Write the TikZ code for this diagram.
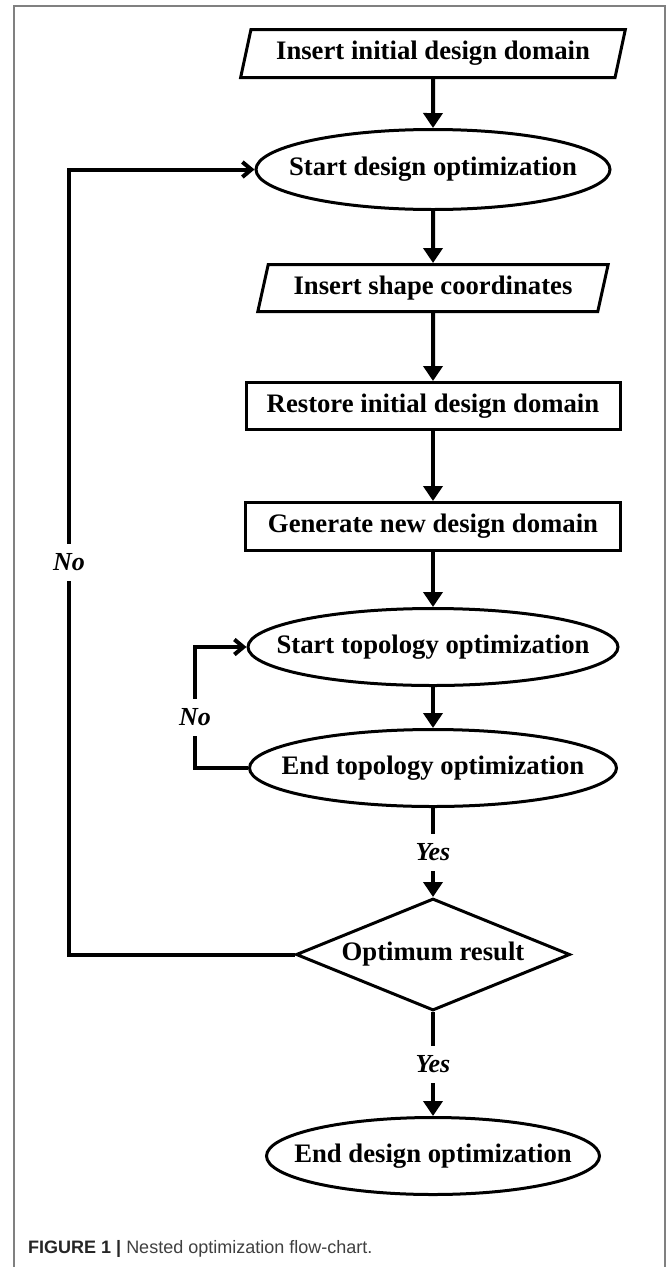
\documentclass[tikz,border=0pt]{standalone}
\usepackage{fontspec}
\setmainfont{Liberation Serif}
\newfontfamily\capfont{Liberation Sans}
\usetikzlibrary{shapes.geometric,arrows.meta}

% text that should not widen the surrounding shape
\newcommand{\nowide}[1]{\makebox[0pt][c]{#1}}

\tikzset{
  flow/.style={draw=black, line width=3pt, fill=white, inner sep=0pt,
    font=\bfseries\fontsize{26.7}{32}\selectfont},
  io/.style={flow, trapezium, trapezium left angle=70, trapezium right angle=110,
    trapezium stretches=true},
  proc/.style={flow, rectangle},
  term/.style={flow, ellipse},
  decide/.style={flow, diamond},
  link/.style={line width=4pt, -{Triangle[length=15pt,width=19pt]}},
  back/.style={line width=4pt, -{Straight Barb[length=9pt,width=15pt]}},
  tag/.style={fill=white, inner sep=0pt, minimum height=37pt, minimum width=36pt,
    font=\bfseries\itshape\fontsize{26}{30}\selectfont},
  frameline/.style={draw=black!50, line width=1.5pt},
}

\begin{document}
\begin{tikzpicture}[x=1pt,y=-1pt]
  \fill[white] (0,0) rectangle (669,1267);
  \useasboundingbox (0,0) rectangle (669,1267);

  % page frame, open at the bottom
  \draw[frameline] (14,1267) -- (14,6) -- (665,6) -- (665,1267);

  % flow column
  \node[io, minimum width=386pt, minimum height=48pt] (p1) at (433,53.5) {Insert initial design domain};
  \node[term, minimum width=354pt, minimum height=80pt] (e1) at (433,169.5) {\nowide{Start design optimization}};
  \node[io, minimum width=352pt, minimum height=47pt] (p2) at (433,288) {Insert shape coordinates};
  \node[proc, minimum width=374pt, minimum height=47pt] (r1) at (433,406) {Restore initial design domain};
  \node[proc, minimum width=375pt, minimum height=48pt] (r2) at (433,526.5) {Generate new design domain};
  \node[term, minimum width=370pt, minimum height=77pt] (e2) at (433,647) {\nowide{Start topology optimization}};
  \node[term, minimum width=367pt, minimum height=77pt] (e3) at (433,768) {\nowide{End topology optimization}};
  \node[decide, minimum width=274pt, minimum height=112pt] (d1) at (433,954.5) {\nowide{Optimum result}};
  \node[term, minimum width=333pt, minimum height=77pt] (e4) at (433,1156) {\nowide{End design optimization}};

  % main connectors
  \draw[link] (p1.south) -- (e1.north);
  \draw[link] (e1.south) -- (p2.north);
  \draw[link] (p2.south) -- (r1.north);
  \draw[link] (r1.south) -- (r2.north);
  \draw[link] (r2.south) -- (e2.north);
  \draw[link] (e2.south) -- (e3.north);
  \draw[link] (e3.south) -- node[tag] (y1) {Yes} (d1.north);
  \draw[link] (d1.south) -- node[tag] (y2) {Yes} (e4.north);

  % feedback loops
  \coordinate (ox) at (69,0);
  \coordinate (ix) at (195,0);
  \draw[back] (d1.west) -- (d1.west -| ox) -- node[tag] (n1) {No} (e1.west -| ox) -- (e1.west);
  \draw[back] (e3.west) -- (e3.west -| ix) -- node[tag, pos=0.42] (n2) {No} (e2.west -| ix) -- (e2.west);

  % caption
  \node[anchor=west, inner sep=0pt, text=black!75, font=\capfont\fontsize{18}{22}\selectfont]
    (cap) at (28,1249) {\textcolor{black!85}{\textbf{FIGURE 1 |}} Nested optimization flow-chart.};
\end{tikzpicture}
\end{document}
